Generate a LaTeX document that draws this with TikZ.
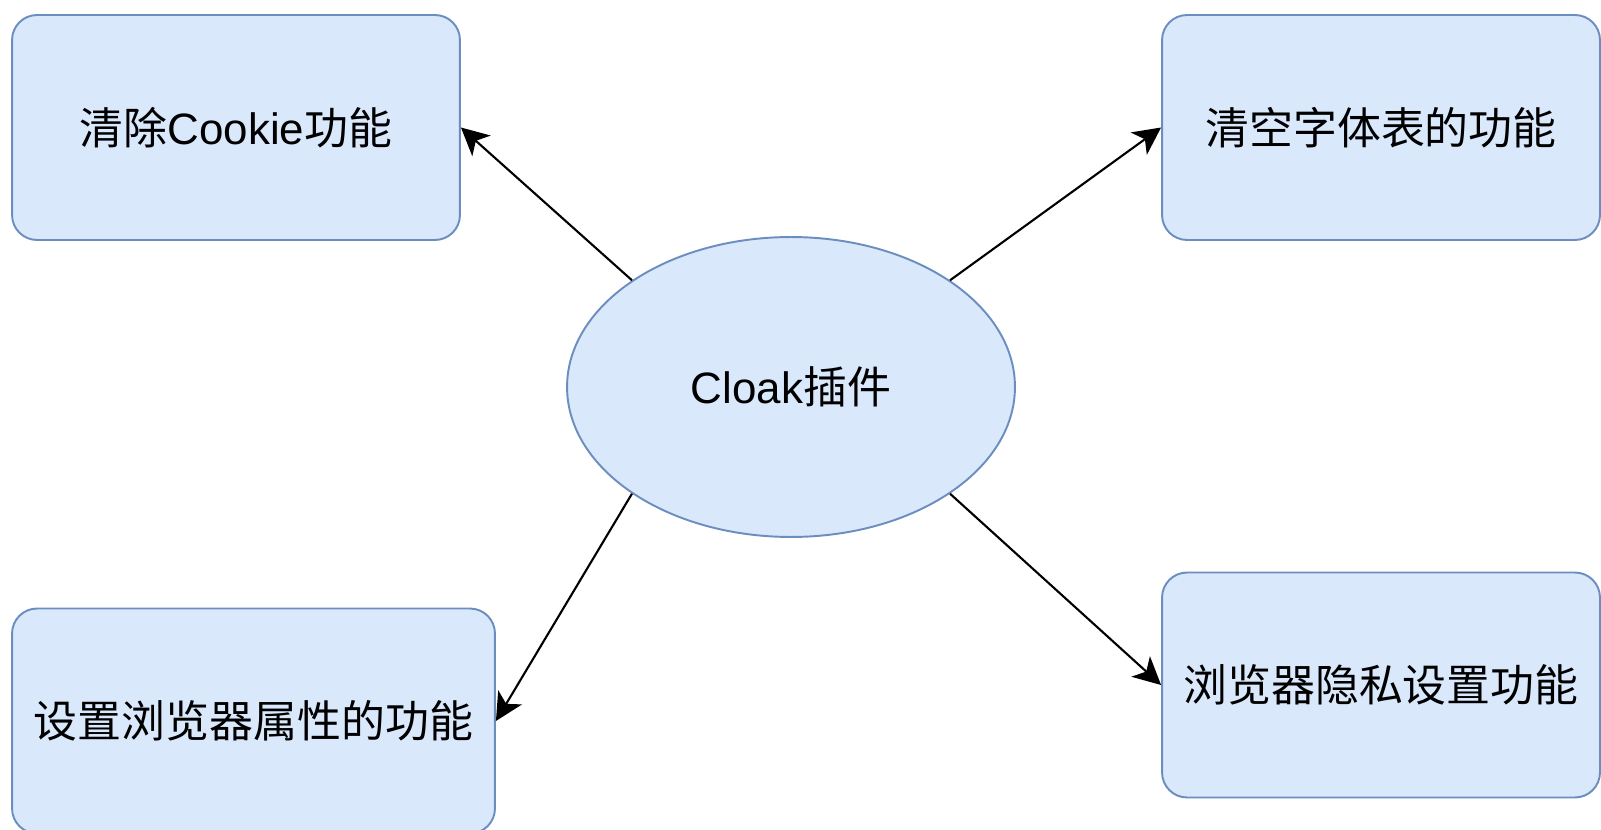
\documentclass[tikz,border=0pt]{standalone}
\usepackage{fontspec}
\setmainfont{Noto Sans CJK SC}
\newfontfamily\latin{Liberation Sans}
\usepackage{xcolor}
\usetikzlibrary{arrows.meta,calc,positioning,shapes.geometric}

\definecolor{boxfill}{HTML}{DAE8FC}
\definecolor{boxline}{HTML}{6C8EBF}

\tikzset{
	feature/.style={draw=boxline,fill=boxfill,line width=1.1pt,rounded corners=0.5cm,
		minimum height=4.5cm,inner sep=0pt,font=\fontsize{25}{30}\selectfont},
	plugin/.style={ellipse,draw=boxline,fill=boxfill,line width=1.1pt,
		minimum width=8.96cm,minimum height=6cm,inner sep=0pt,font=\fontsize{25}{30}\selectfont},
	link/.style={line width=1.2pt,-{Stealth[length=0.55cm,width=0.55cm,inset=0.15cm]}}
}

\begin{document}
\begin{tikzpicture}[x=0.02cm,y=-0.02cm]
		\useasboundingbox (0,0) rectangle (1601,830);
		% centre
		\node[plugin] (cloak) at (791,387) {{\latin Cloak}插件};
		% four features
		\node[feature,minimum width=8.96cm] (cookie) at (236,127.5) {清除{\latin Cookie}功能};
		\node[feature,minimum width=8.76cm] (fonts) at (1381,127.5) {清空字体表的功能};
		\node[feature,minimum width=9.66cm] (attrs) at (253.5,721) {设置浏览器属性的功能};
		\node[feature,minimum width=8.76cm] (privacy) at (1381,685) {浏览器隐私设置功能};
		\draw[link] (cloak.north west) -- (cookie.east);
		\draw[link] (cloak.north east) -- (fonts.west);
		\draw[link] (cloak.south west) -- (attrs.east);
		\draw[link] (cloak.south east) -- (privacy.west);
		\end{tikzpicture}
\end{document}
